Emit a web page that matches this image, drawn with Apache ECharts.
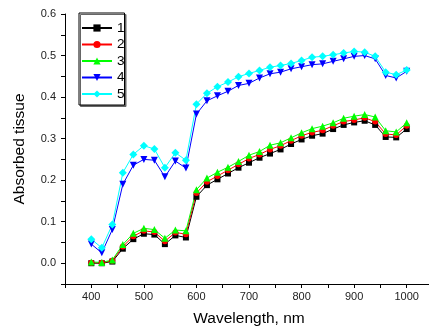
<!DOCTYPE html>
<html>
<head>
<meta charset="utf-8">
<script src="https://cdn.jsdelivr.net/npm/echarts@6/dist/echarts.min.js"></script>
<style>
  html, body { margin: 0; padding: 0; background: #fff; }
  #chart { width: 429px; height: 331px; }
</style>
</head>
<body>
<div id="chart"></div>
<script>
// wavelength (nm)
const wavelengths = [400, 420, 440, 460, 480, 500, 520, 540, 560, 580, 600, 620, 640, 660, 680, 700,
	720, 740, 760, 780, 800, 820, 840, 860, 880, 900, 920, 940, 960, 980, 1000];

const names = ['1', '2', '3', '4', '5'];

const s1 = [0.000, 0.000, 0.004, 0.035, 0.058, 0.071, 0.069, 0.046, 0.067, 0.062, 0.160, 0.188, 0.202, 0.216, 0.230, 0.242,
	0.254, 0.264, 0.274, 0.287, 0.298, 0.307, 0.312, 0.323, 0.333, 0.339, 0.343, 0.333, 0.304, 0.303, 0.323];
const s2 = [0.001, 0.001, 0.006, 0.040, 0.065, 0.078, 0.075, 0.053, 0.074, 0.070, 0.169, 0.196, 0.210, 0.224, 0.238, 0.252,
	0.262, 0.274, 0.283, 0.295, 0.307, 0.315, 0.320, 0.331, 0.341, 0.345, 0.350, 0.341, 0.311, 0.309, 0.331];
const s3 = [0.003, 0.002, 0.008, 0.045, 0.072, 0.084, 0.081, 0.060, 0.080, 0.078, 0.177, 0.205, 0.219, 0.231, 0.245, 0.260,
	0.269, 0.284, 0.290, 0.302, 0.314, 0.324, 0.330, 0.338, 0.349, 0.354, 0.358, 0.352, 0.319, 0.316, 0.338];
const s4 = [0.046, 0.025, 0.081, 0.190, 0.236, 0.250, 0.248, 0.208, 0.246, 0.229, 0.359, 0.391, 0.403, 0.414, 0.428, 0.433,
	0.446, 0.456, 0.460, 0.468, 0.473, 0.478, 0.480, 0.486, 0.492, 0.498, 0.500, 0.492, 0.452, 0.446, 0.462];
const s5 = [0.058, 0.037, 0.093, 0.218, 0.262, 0.283, 0.275, 0.230, 0.266, 0.248, 0.383, 0.409, 0.425, 0.436, 0.449, 0.457,
	0.464, 0.472, 0.476, 0.481, 0.488, 0.496, 0.498, 0.502, 0.506, 0.510, 0.508, 0.498, 0.460, 0.454, 0.465];

const colors = ['#000000', '#ff0000', '#00ff00', '#0000ff', '#00ffff'];
const symbols = ['rect', 'circle', 'triangle', 'triangle', 'diamond'];
const rotates = [0, 0, 0, 180, 0];
const sizes = [6, 6, 7, 7, 8];

const font = 'Liberation Sans, Arial, sans-serif';

const chart = echarts.init(document.getElementById('chart'), null, { renderer: 'canvas' });

const series = [s1, s2, s3, s4, s5].map(function (vals, i) {
	return {
		name: names[i],
		type: 'line',
		data: wavelengths.map(function (w, j) { return [w, vals[j]]; }),
		symbol: symbols[i],
		symbolRotate: rotates[i],
		symbolSize: sizes[i],
		showAllSymbol: true,
		lineStyle: { color: colors[i], width: 1 },
		itemStyle: { color: colors[i] },
		emphasis: { disabled: true },
	};
});

chart.setOption({
	animation: false,
	backgroundColor: '#fff',
	// x range runs past the right edge of the picture, like the original
	grid: { left: 65, top: 14, width: 368, bottom: 47, outerBoundsMode: 'none', containLabel: false },
	legend: {
		orient: 'vertical',
		left: 79,
		top: 13,
		padding: [8, 0, 4, 2],
		itemWidth: 30,
		itemHeight: 9,
		itemGap: 2.5,
		borderColor: '#000',
		borderWidth: 1,
		backgroundColor: '#fff',
		shadowColor: '#666',
		shadowOffsetX: 1.5,
		shadowOffsetY: 1.5,
		shadowBlur: 0,
		textStyle: { fontFamily: font, fontSize: 13.5, color: '#000', lineHeight: 14 },
		data: names,
	},
	xAxis: {
		type: 'value',
		min: 350,
		max: 1050,
		interval: 50,
		name: 'Wavelength, nm',
		nameLocation: 'middle',
		nameGap: 27,
		nameTextStyle: { fontFamily: font, fontSize: 15.5, color: '#000' },
		axisLine: { onZero: false, lineStyle: { color: '#000', width: 1 } },
		axisTick: { show: true, inside: false, length: 4, lineStyle: { color: '#000' } },
		axisLabel: {
			fontFamily: font, fontSize: 11, color: '#222', margin: 7,
			formatter: function (v) { return v % 100 === 0 ? String(v) : ''; },
		},
		splitLine: { show: false },
	},
	yAxis: {
		type: 'value',
		min: -0.05,
		max: 0.6,
		interval: 0.05,
		name: 'Absorbed tissue',
		nameLocation: 'middle',
		nameGap: 37,
		nameTextStyle: { fontFamily: font, fontSize: 15.5, color: '#000' },
		axisLine: { show: true, onZero: false, lineStyle: { color: '#000', width: 1 } },
		axisTick: { show: true, inside: false, length: 4, lineStyle: { color: '#000' } },
		axisLabel: {
			fontFamily: font, fontSize: 11, color: '#222', margin: 9,
			formatter: function (v) {
				const k = Math.round(v * 20);
				return k % 2 === 0 ? (k / 20).toFixed(1) : '';
			},
		},
		splitLine: { show: false },
	},
	series: series,
});
</script>
</body>
</html>
